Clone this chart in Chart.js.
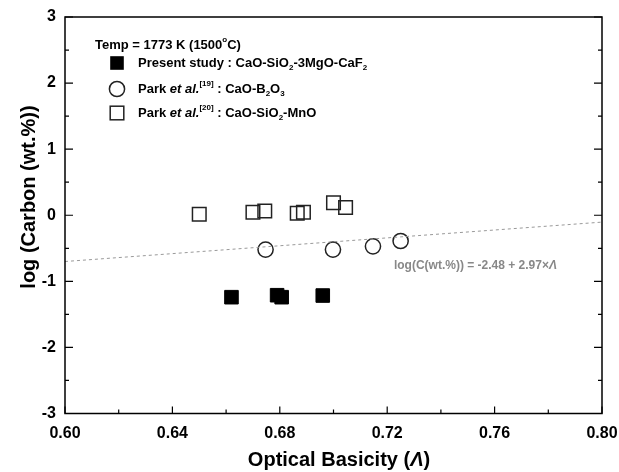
<!DOCTYPE html>
<html>
<head>
<meta charset="utf-8">
<script src="https://cdn.jsdelivr.net/npm/chart.js@4/dist/chart.umd.min.js"></script>
<style>
  html, body { margin: 0; padding: 0; background: #fff; }
  #wrap { width: 619px; height: 472px; }
</style>
</head>
<body>
<div id="wrap"><canvas id="chart"></canvas></div>
<script>
// values
const presentX = [0.662, 0.679, 0.6807, 0.696];
const presentY = [-1.24, -1.21, -1.24, -1.215];
const parkBX = [0.6747, 0.6998, 0.7147, 0.725];
const parkBY = [-0.52, -0.52, -0.47, -0.39];
const parkMX = [0.65, 0.67, 0.6744, 0.6865, 0.6888, 0.70, 0.7045];
const parkMY = [0.015, 0.045, 0.065, 0.03, 0.045, 0.19, 0.117];
const fitX = [0.60, 0.80];
const fitY = [-0.70, -0.104];
const fitLabelPos = [0.7225, -0.77];

const FONT = '"Liberation Sans", Arial, sans-serif';

const toPoints = (xs, ys) => xs.map((x, i) => ({ x: x, y: ys[i] }));

// draws text made of pieces: {t, sub, sup, it}
const drawRich = (ctx, x, y, parts, size, weight, align) => {
  const small = Math.round(size * 0.65);
  const fontFor = (p) =>
    (p.it ? "italic " : "") + weight + " " + (p.sub || p.sup ? small : size) + "px " + FONT;
  let total = 0;
  parts.forEach((p) => {
    ctx.font = fontFor(p);
    total += ctx.measureText(p.t).width;
  });
  let cx = align === "center" ? x - total / 2 : x;
  ctx.textBaseline = "middle";
  ctx.textAlign = "left";
  parts.forEach((p) => {
    ctx.font = fontFor(p);
    let dy = 0;
    if (p.sub) dy = size * 0.35;
    if (p.sup) dy = -size * 0.4;
    ctx.fillText(p.t, cx, y + dy);
    cx += ctx.measureText(p.t).width;
  });
};

const drawMarker = (ctx, style, x, y) => {
  ctx.save();
  ctx.lineWidth = 1.5;
  ctx.strokeStyle = "#222";
  ctx.beginPath();
  if (style === "circle") {
    ctx.arc(x, y, 7.6, 0, Math.PI * 2);
    ctx.stroke();
  } else if (style === "filled") {
    ctx.fillStyle = "#000";
    ctx.fillRect(x - 6.8, y - 6.8, 13.6, 13.6);
  } else {
    ctx.strokeRect(x - 6.8, y - 6.8, 13.6, 13.6);
  }
  ctx.restore();
};

const framePlugin = {
  id: "frame",
  afterDraw: (chart) => {
    const ctx = chart.ctx;
    const a = chart.chartArea;
    const xs = chart.scales.x;
    const ys = chart.scales.y;
    ctx.save();
    ctx.strokeStyle = "#000";
    ctx.lineWidth = 1.5;
    ctx.strokeRect(a.left, a.top, a.right - a.left, a.bottom - a.top);

    ctx.lineWidth = 1.2;
    ctx.beginPath();
    xs.ticks.forEach((t) => {
      const px = xs.getPixelForValue(t.value);
      const major = Math.round(t.value * 100) % 4 === 0;
      const len = major ? 7 : 4;
      ctx.moveTo(px, a.bottom);
      ctx.lineTo(px, a.bottom - len);
    });
    ys.ticks.forEach((t) => {
      const py = ys.getPixelForValue(t.value);
      const major = Number.isInteger(t.value);
      const len = major ? 8 : 4;
      ctx.moveTo(a.left, py);
      ctx.lineTo(a.left + len, py);
      ctx.moveTo(a.right, py);
      ctx.lineTo(a.right - len, py);
    });
    ctx.stroke();

    // axis titles
    ctx.fillStyle = "#000";
    drawRich(ctx, 339, 460,
      [{ t: "Optical Basicity (" }, { t: "Λ", it: true }, { t: ")" }], 20, "bold", "center");
    ctx.save();
    ctx.translate(29, 197);
    ctx.rotate(-Math.PI / 2);
    drawRich(ctx, 0, 0, [{ t: "log (Carbon (wt.%))" }], 20, "bold", "center");
    ctx.restore();

    // legend
    drawRich(ctx, 95, 45, [{ t: "Temp = 1773 K (1500" }, { t: "o", sup: true }, { t: "C)" }], 13, "bold");
    drawMarker(ctx, "filled", 117, 63);
    drawRich(ctx, 138, 63, [
      { t: "Present study : CaO-SiO" }, { t: "2", sub: true },
      { t: "-3MgO-CaF" }, { t: "2", sub: true }], 13, "bold");
    drawMarker(ctx, "circle", 117, 89);
    drawRich(ctx, 138, 89, [
      { t: "Park " }, { t: "et al.", it: true }, { t: "[19]", sup: true },
      { t: " : CaO-B" }, { t: "2", sub: true }, { t: "O" }, { t: "3", sub: true }], 13, "bold");
    drawMarker(ctx, "square", 117, 113);
    drawRich(ctx, 138, 113, [
      { t: "Park " }, { t: "et al.", it: true }, { t: "[20]", sup: true },
      { t: " : CaO-SiO" }, { t: "2", sub: true }, { t: "-MnO" }], 13, "bold");

    // fit equation
    ctx.fillStyle = "#888";
    drawRich(ctx, xs.getPixelForValue(fitLabelPos[0]), ys.getPixelForValue(fitLabelPos[1]),
      [{ t: "log(C(wt.%)) = -2.48 + 2.97×" }, { t: "Λ", it: true }], 12, "bold");
    ctx.restore();
  },
};

new Chart(document.getElementById("chart"), {
  type: "scatter",
  data: {
    datasets: [
      {
        type: "line",
        label: "fit",
        data: toPoints(fitX, fitY),
        borderColor: "#999",
        borderWidth: 1,
        borderDash: [3, 3],
        pointRadius: 0,
        fill: false,
      },
      {
        label: "Present study",
        data: toPoints(presentX, presentY),
        pointStyle: "rect",
        pointRadius: 9.6,
        backgroundColor: "#000",
        borderColor: "#000",
        borderWidth: 1,
      },
      {
        label: "Park B2O3",
        data: toPoints(parkBX, parkBY),
        pointStyle: "circle",
        pointRadius: 7.6,
        backgroundColor: "rgba(255,255,255,0)",
        borderColor: "#222",
        borderWidth: 1.5,
      },
      {
        label: "Park MnO",
        data: toPoints(parkMX, parkMY),
        pointStyle: "rect",
        pointRadius: 9.6,
        backgroundColor: "rgba(255,255,255,0)",
        borderColor: "#222",
        borderWidth: 1.5,
      },
    ],
  },
  options: {
    responsive: true,
    maintainAspectRatio: false,
    animation: false,
    layout: { padding: { left: 0, top: 17, right: 17, bottom: 0 } },
    plugins: { legend: { display: false }, tooltip: { enabled: false } },
    scales: {
      x: {
        type: "linear",
        min: 0.6,
        max: 0.8,
        grid: { display: false, drawTicks: false },
        border: { display: false },
        afterFit: (scale) => {
          scale.height = 58.5;
          scale.paddingLeft = 0;
          scale.paddingRight = 0;
        },
        ticks: {
          stepSize: 0.02,
          autoSkip: false,
          maxRotation: 0,
          padding: 10,
          color: "#000",
          font: { family: FONT, size: 16, weight: "bold" },
          callback: (v) => (Math.round(v * 100) % 4 === 0 ? v.toFixed(2) : ""),
        },
      },
      y: {
        type: "linear",
        min: -3,
        max: 3,
        grid: { display: false, drawTicks: false },
        border: { display: false },
        afterFit: (scale) => {
          scale.width = 65;
          scale.paddingTop = 0;
          scale.paddingBottom = 0;
        },
        ticks: {
          stepSize: 0.5,
          autoSkip: false,
          padding: 9,
          color: "#000",
          font: { family: FONT, size: 16, weight: "bold" },
          callback: (v) => (Number.isInteger(v) ? String(v) : ""),
        },
      },
    },
  },
  plugins: [framePlugin],
});
</script>
</body>
</html>
